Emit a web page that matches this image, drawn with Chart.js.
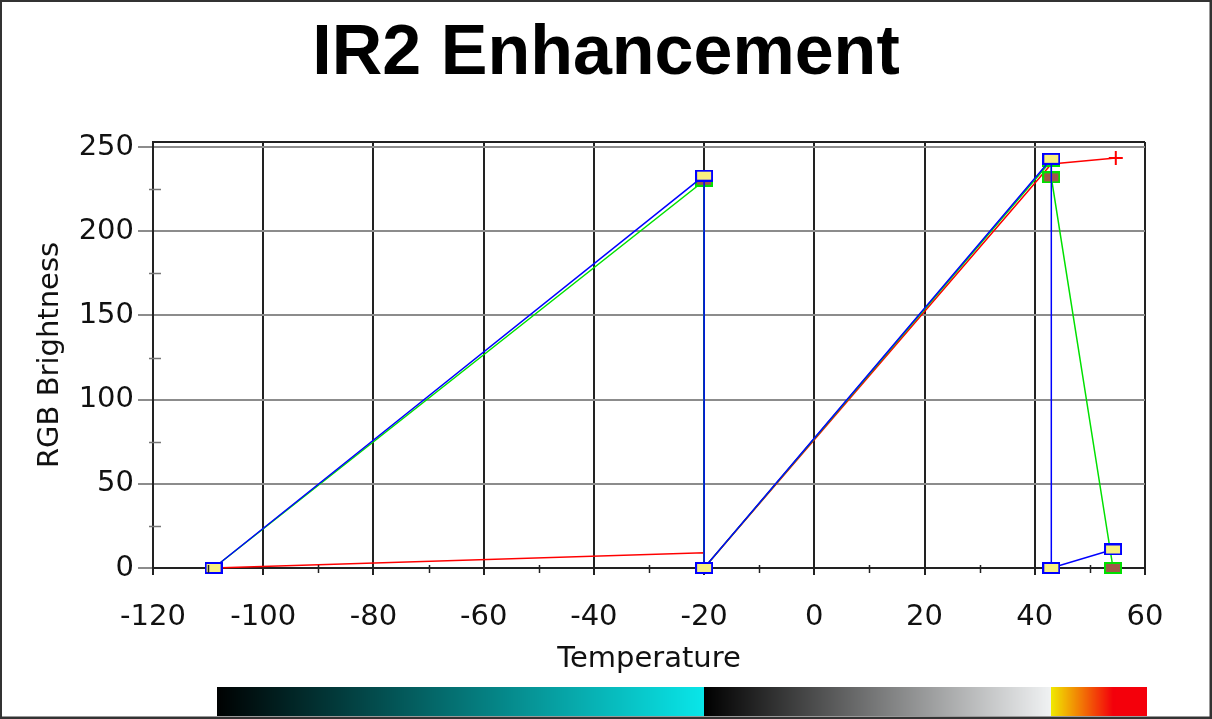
<!DOCTYPE html>
<html>
<head>
<meta charset="utf-8">
<title>IR2 Enhancement</title>
<script src="https://cdn.jsdelivr.net/npm/chart.js@4"></script>
<style>
    html, body { margin: 0; padding: 0; background: #fff; overflow: hidden; }
    #wrap { width: 1212px; height: 719px; }
</style>
</head>
<body>
<div id="wrap"><canvas id="enhChart" width="1212" height="719"></canvas></div>
<script>
const CHART_TITLE = 'IR2 Enhancement';
const X_TITLE = 'Temperature';
const Y_TITLE = 'RGB Brightness';

// temperature axis and brightness axis ranges
const X_MIN = -120, X_MAX = 60, X_STEP = 20;
const Y_MIN = 0, Y_MAX = 253;
const yTickValues = [0, 50, 100, 150, 200, 250];

// enhancement curve per colour channel (temperature -> brightness)
const redTemps = [-109, -20, -20, 43, 54.7];
const redValues = [0, 9, 0, 240, 243.5];
const greenTemps = [-109, -20, -20, 43, 43, 54.2];
const greenValues = [0, 230, 0, 242, 232, 0];
const blueTemps = [-109, -20, -20, 43, 43, 54.2];
const blueValues = [0, 233, 0, 243, 0, 11];

const FONT_AXIS = '"DejaVu Sans", sans-serif';

function toPoints(xs, ys) {
    return xs.map((x, i) => ({ x, y: ys[i] }));
}

// small rectangle markers used by the green and blue channels
function boxMarker(border, fill) {
    const c = document.createElement('canvas');
    c.width = 18; c.height = 12;
    const g = c.getContext('2d');
    g.fillStyle = border;
    g.fillRect(0, 0, 18, 12);
    g.fillStyle = fill;
    g.fillRect(2, 2, 14, 8);
    return c;
}
const blueBox = boxMarker('#0000ff', '#f8f080');
const greenBox = boxMarker('#00e000', '#a05848');

// channel value at a temperature, taking the value right after a jump
function channelAt(xs, ys, t) {
    if (t <= xs[0]) return ys[0];
    for (let i = 0; i < xs.length - 1; i++) {
        const x0 = xs[i], x1 = xs[i + 1];
        if (x1 > x0 && t >= x0 && t < x1) {
            return ys[i] + (ys[i + 1] - ys[i]) * (t - x0) / (x1 - x0);
        }
    }
    return ys[ys.length - 1];
}

const extrasPlugin = {
    id: 'extras',
    afterDraw(chart) {
        const ctx = chart.ctx;
        const area = chart.chartArea;
        const xs = chart.scales.x, ys = chart.scales.y;
        ctx.save();

        // frame line along the top of the plot
        ctx.strokeStyle = '#222';
        ctx.lineWidth = 2;
        ctx.beginPath();
        ctx.moveTo(area.left, area.top);
        ctx.lineTo(area.right, area.top);
        ctx.stroke();

        // minor ticks
        ctx.strokeStyle = '#777';
        ctx.lineWidth = 1.5;
        for (let v = 25; v < Y_MAX; v += 50) {
            const py = Math.round(ys.getPixelForValue(v)) + 0.5;
            ctx.beginPath();
            ctx.moveTo(area.left - 4, py);
            ctx.lineTo(area.left + 8, py);
            ctx.stroke();
        }
        ctx.strokeStyle = '#222';
        for (let v = X_MIN + 10; v < X_MAX; v += 20) {
            const px = Math.round(xs.getPixelForValue(v)) + 0.5;
            ctx.beginPath();
            ctx.moveTo(px, area.bottom - 3);
            ctx.lineTo(px, area.bottom + 5);
            ctx.stroke();
        }

        // colour bar produced by the enhancement curves
        const x0 = Math.round(xs.getPixelForValue(redTemps[0])) + 3;
        const x1 = Math.round(area.right) + 2;
        for (let px = x0; px < x1; px++) {
            const t = xs.getValueForPixel(px + 0.5);
            const r = Math.round(channelAt(redTemps, redValues, t));
            const g = Math.round(channelAt(greenTemps, greenValues, t));
            const b = Math.round(channelAt(blueTemps, blueValues, t));
            ctx.fillStyle = `rgb(${r},${g},${b})`;
            ctx.fillRect(px, 687, 1, 29);
        }

        // title
        ctx.fillStyle = '#000';
        ctx.font = 'bold 70px "Liberation Sans", Arial, sans-serif';
        ctx.textAlign = 'center';
        ctx.textBaseline = 'middle';
        ctx.fillText(CHART_TITLE, chart.width / 2, 55);

        // outer border
        ctx.strokeStyle = '#333';
        ctx.lineWidth = 3;
        ctx.strokeRect(0.5, 0.5, chart.width - 1.5, chart.height - 1.5);
        ctx.restore();
    }
};

const ctx = document.getElementById('enhChart').getContext('2d');
new Chart(ctx, {
    type: 'line',
    data: {
        datasets: [
            {
                label: 'Blue',
                data: toPoints(blueTemps, blueValues),
                borderColor: '#0000ff',
                borderWidth: 1.5,
                pointStyle: blueBox,
                pointRadius: 6,
                clip: false,
            },
            {
                label: 'Green',
                data: toPoints(greenTemps, greenValues),
                borderColor: '#00e000',
                borderWidth: 1.5,
                pointStyle: greenBox,
                pointRadius: 6,
                clip: false,
            },
            {
                label: 'Red',
                data: toPoints(redTemps, redValues),
                borderColor: '#ff0000',
                borderWidth: 1.5,
                pointStyle: 'cross',
                pointBorderWidth: 2,
                pointRadius: c => (c.dataIndex === redTemps.length - 1 ? 7 : 0),
                clip: false,
            },
        ]
    },
    options: {
        responsive: false,
        animation: false,
        events: [],
        layout: { padding: { top: 142, right: 67, bottom: 39, left: 0 } },
        plugins: {
            legend: { display: false },
            tooltip: { enabled: false },
        },
        elements: { line: { tension: 0, fill: false } },
        scales: {
            x: {
                type: 'linear',
                min: X_MIN, max: X_MAX,
                afterFit: s => { s.height = 112; },
                ticks: {
                    stepSize: X_STEP,
                    padding: 25,
                    color: '#111',
                    font: { family: FONT_AXIS, size: 29 },
                },
                grid: { color: '#222', lineWidth: 2, tickLength: 7, tickColor: '#222' },
                border: { color: '#222', width: 2 },
                title: {
                    display: true, text: X_TITLE, color: '#111',
                    font: { family: FONT_AXIS, size: 29 },
                    padding: { top: 0, bottom: 3 },
                },
            },
            y: {
                min: Y_MIN, max: Y_MAX,
                afterFit: s => { s.width = 153; },
                afterBuildTicks: s => { s.ticks = yTickValues.map(v => ({ value: v })); },
                ticks: {
                    padding: 4,
                    color: '#111',
                    font: { family: FONT_AXIS, size: 29 },
                },
                grid: { color: '#8c8c8c', lineWidth: 2, tickLength: 15, tickColor: '#8c8c8c' },
                border: { color: '#222', width: 2 },
                title: {
                    display: true, text: Y_TITLE, color: '#111',
                    font: { family: FONT_AXIS, size: 29 },
                    padding: { top: 33, bottom: 0 },
                },
            },
        }
    },
    plugins: [extrasPlugin]
});
</script>
</body>
</html>
